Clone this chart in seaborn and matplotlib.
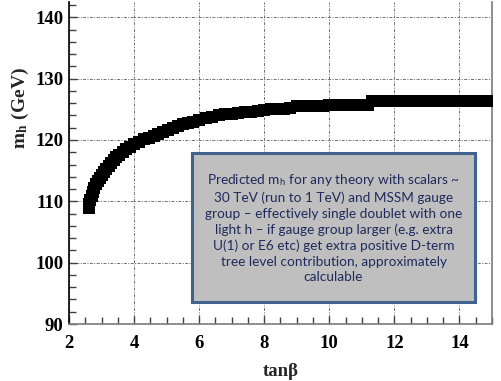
import matplotlib
matplotlib.use("Agg")
import matplotlib.pyplot as plt
from matplotlib.patches import Rectangle
from matplotlib.ticker import MultipleLocator
import seaborn as sns
import pandas as pd

# values
tan_beta = [2.60, 2.63, 2.66, 2.70, 2.74, 2.78, 2.83, 2.88, 2.94, 3.00,
            3.07, 3.14, 3.22, 3.30, 3.38, 3.46, 3.55, 3.65, 3.75, 3.86,
            4.00, 4.15, 4.30, 4.45, 4.60, 4.75, 4.90, 5.05, 5.20, 5.35,
            5.50, 5.65, 5.80, 6.00, 6.20, 6.40, 6.60, 6.80, 7.00, 7.20,
            7.40, 7.60, 7.80, 8.00, 8.20, 8.40, 8.60, 8.80, 9.00, 9.20,
            9.40, 9.60, 9.80, 10.0, 10.2, 10.4, 10.6, 10.8, 11.0, 11.2,
            11.3, 11.5, 11.7, 11.9, 12.1, 12.3, 12.5, 12.7, 12.9, 13.1,
            13.3, 13.5, 13.7, 13.9, 14.1, 14.3, 14.5, 14.7, 14.9, 15.0]
m_h = [108.9, 109.5, 110.2, 110.9, 111.6, 112.2, 112.8, 113.3, 113.8, 114.3,
       114.8, 115.3, 115.8, 116.3, 116.8, 117.2, 117.6, 118.1, 118.5, 118.9,
       119.3, 119.7, 120.1, 120.4, 120.7, 121.0, 121.3, 121.7, 122.0, 122.3,
       122.6, 122.8, 123.0, 123.3, 123.6, 123.8, 124.0, 124.2, 124.3, 124.4,
       124.5, 124.6, 124.7, 124.9, 125.0, 125.0, 125.1, 125.2, 125.5, 125.6,
       125.6, 125.6, 125.6, 125.7, 125.7, 125.7, 125.7, 125.7, 125.7, 125.7,
       126.3, 126.3, 126.3, 126.3, 126.3, 126.3, 126.3, 126.3, 126.3, 126.3,
       126.3, 126.3, 126.3, 126.3, 126.3, 126.3, 126.3, 126.3, 126.3, 126.3]

note = ("Predicted m$_\\mathregular{h}$ for any theory with scalars ~\n"
        "30 TeV (run to 1 TeV) and MSSM gauge\n"
        "group \u2013 effectively single doublet with one\n"
        "light h \u2013 if gauge group larger (e.g. extra\n"
        "U(1) or E6 etc) get extra positive D-term\n"
        "tree level contribution, approximately\n"
        "calculable")

sns.set_theme(style="ticks")
plt.rcParams["font.family"] = ["Liberation Serif", "DejaVu Serif"]
plt.rcParams["mathtext.fontset"] = "stix"

df = pd.DataFrame({"tanb": tan_beta, "mh": m_h})

fig = plt.figure(figsize=(5.01, 3.81), dpi=100)
ax = fig.add_axes([0.1377, 0.1496, 0.8443, 0.8452])

sns.scatterplot(data=df, x="tanb", y="mh", marker="s", s=85, color="black",
                edgecolor="black", linewidth=0, ax=ax, zorder=3)

ax.set_xlim(2, 15)
ax.set_ylim(90, 142.5)
ax.xaxis.set_major_locator(MultipleLocator(2))
ax.xaxis.set_minor_locator(MultipleLocator(0.5))
ax.yaxis.set_major_locator(MultipleLocator(10))
ax.yaxis.set_minor_locator(MultipleLocator(2))
ax.grid(True, which="major", linestyle=(0, (3, 1.5, 1, 1.5)),
        color="#6f6f6f", linewidth=0.7)

ax.tick_params(which="both", direction="in", colors="#404040")
ax.tick_params(which="major", length=6, width=1)
ax.tick_params(which="minor", length=5, width=1)
ax.tick_params(axis="y", pad=4, labelcolor="black")
ax.tick_params(axis="x", pad=8, labelcolor="black")
for lab in ax.get_xticklabels() + ax.get_yticklabels():
    lab.set_fontsize(13.5)
    lab.set_fontweight("bold")

ax.spines["top"].set_visible(False)
ax.spines["left"].set_color("black")
ax.spines["left"].set_linewidth(1.2)
ax.spines["bottom"].set_color("#808080")
ax.spines["right"].set_color("#808080")

ax.set_xlabel("tan\u03b2", fontsize=13.5, fontweight="bold")
ax.xaxis.set_label_coords(0.5, -0.122)
ax.set_ylabel("$\\mathbf{m}_\\mathbf{h}$ (GeV)", fontsize=14, fontweight="bold")
ax.yaxis.set_label_coords(-0.09, 0.67)

ax.add_patch(Rectangle((5.775, 93.66), 8.715, 24.27, facecolor="#bfbfbf",
                       edgecolor="#41618f", linewidth=2.2, zorder=4))
ax.text(10.13, 105.75, note, ha="center", va="center", fontsize=9.8,
        color="#1f2a5c", family=["Lato", "DejaVu Sans"], linespacing=1.35,
        zorder=5)

fig.savefig("out.png", dpi=100)
